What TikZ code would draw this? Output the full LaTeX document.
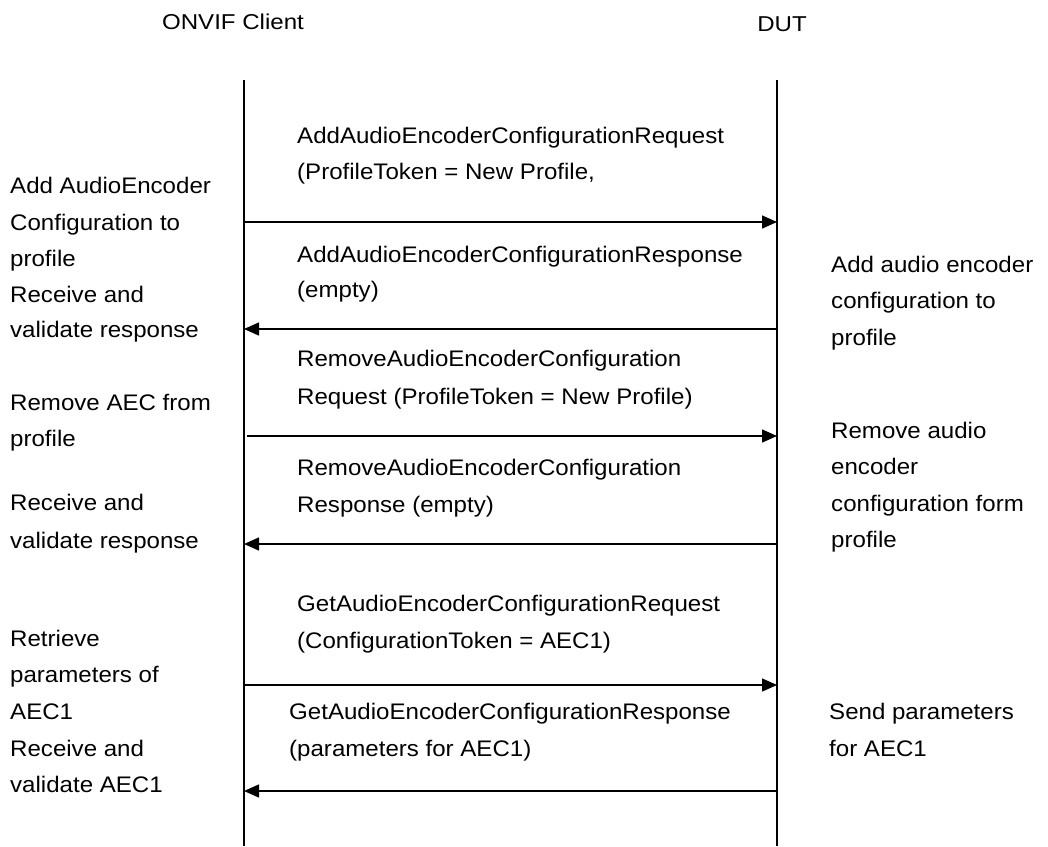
\documentclass[tikz,border=0pt]{standalone}
\usepackage{fontspec}
\setmainfont{Liberation Sans}
\newfontfamily\bodyfont[FakeStretch=1.07]{Liberation Sans}
\newfontfamily\headfont[FakeStretch=1.12]{Liberation Sans}
\usetikzlibrary{arrows.meta}
\begin{document}
\begin{tikzpicture}[x=1pt,y=-1pt,
  txt/.style={anchor=base west,inner sep=0pt,font=\bodyfont\fontsize{22.5}{27}\selectfont},
  head/.style={anchor=base,inner sep=0pt,font=\headfont\fontsize{21.5}{26}\selectfont},
  life/.style={line width=1.5pt},
  msg/.style={line width=1.5pt,-{Triangle[length=15pt,width=13pt]}}]
\useasboundingbox (0,0) rectangle (1048,846);
% headers
\node[head] (hc) at (233,29) {ONVIF Client};
\node[head] (hd) at (782,31) {DUT};
% lifelines
\coordinate (ct) at (244,80); \coordinate (cb) at (244,846);
\coordinate (dt) at (777,80); \coordinate (db) at (777,846);
\draw[life] (ct) -- (cb);
\draw[life] (dt) -- (db);
% message end points
\coordinate (c1) at (244,222); \coordinate (d1) at (777,222);
\coordinate (c2) at (244,329); \coordinate (d2) at (777,329);
\coordinate (c3) at (247,436); \coordinate (d3) at (777,436);
\coordinate (c4) at (244,544); \coordinate (d4) at (777,544);
\coordinate (c5) at (244,685); \coordinate (d5) at (777,685);
\coordinate (c6) at (244,791); \coordinate (d6) at (777,791);
\draw[msg] (c1) -- (d1);
\draw[msg] (d2) -- (c2);
\draw[msg] (c3) -- (d3);
\draw[msg] (d4) -- (c4);
\draw[msg] (c5) -- (d5);
\draw[msg] (d6) -- (c6);
% message labels
\node[txt] (m1a) at (297,143) {AddAudioEncoderConfigurationRequest};
\node[txt] (m1b) at (297,179) {(ProfileToken = New Profile,};
\node[txt] (m2a) at (297,262) {AddAudioEncoderConfigurationResponse};
\node[txt] (m2b) at (297,297) {(empty)};
\node[txt] (m3a) at (297,366) {RemoveAudioEncoderConfiguration};
\node[txt] (m3b) at (297,404) {Request (ProfileToken = New Profile)};
\node[txt] (m4a) at (297,475) {RemoveAudioEncoderConfiguration};
\node[txt] (m4b) at (297,512) {Response (empty)};
\node[txt] (m5a) at (297,611) {GetAudioEncoderConfigurationRequest};
\node[txt] (m5b) at (297,648) {(ConfigurationToken = AEC1)};
\node[txt] (m6a) at (289,719) {GetAudioEncoderConfigurationResponse};
\node[txt] (m6b) at (289,756) {(parameters for AEC1)};
% left notes
\node[txt] (l1) at (10,193) {Add AudioEncoder};
\node[txt] (l2) at (10,230) {Configuration to};
\node[txt] (l3) at (10,266) {profile};
\node[txt] (l4) at (10,302) {Receive and};
\node[txt] (l5) at (10,337) {validate response};
\node[txt] (l6) at (10,410) {Remove AEC from};
\node[txt] (l7) at (10,446) {profile};
\node[txt] (l8) at (10,510) {Receive and};
\node[txt] (l9) at (10,548) {validate response};
\node[txt] (l10) at (10,646) {Retrieve};
\node[txt] (l11) at (10,682) {parameters of};
\node[txt] (l12) at (10,719) {AEC1};
\node[txt] (l13) at (10,756) {Receive and};
\node[txt] (l14) at (10,792) {validate AEC1};
% right notes
\node[txt] (r1) at (831,272) {Add audio encoder};
\node[txt] (r2) at (831,308) {configuration to};
\node[txt] (r3) at (831,345) {profile};
\node[txt] (r4) at (831,438) {Remove audio};
\node[txt] (r5) at (831,474) {encoder};
\node[txt] (r6) at (831,511) {configuration form};
\node[txt] (r7) at (831,547) {profile};
\node[txt] (r8) at (829,719) {Send parameters};
\node[txt] (r9) at (829,756) {for AEC1};
\end{tikzpicture}
\end{document}
